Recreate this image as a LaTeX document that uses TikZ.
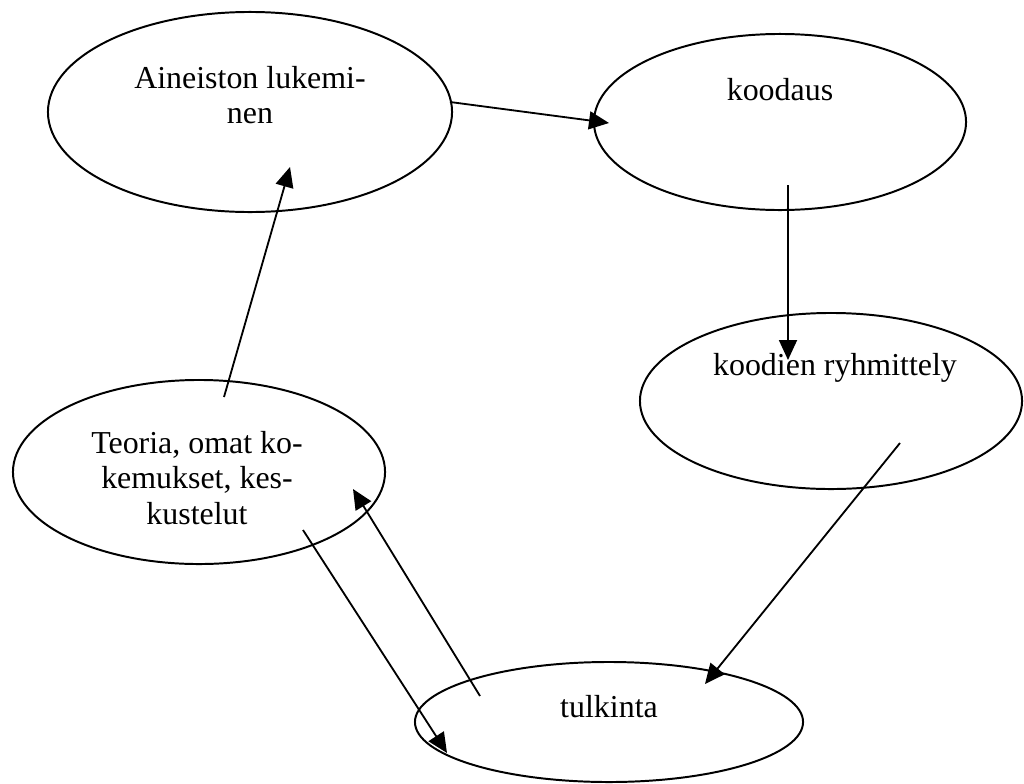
\documentclass[tikz,border=0pt]{standalone}
\usepackage{fontspec}
\setmainfont{Liberation Serif}
\usetikzlibrary{shapes.geometric,arrows.meta,calc}

\begin{document}
\begin{tikzpicture}[
  x=0.025cm, y=-0.025cm,
  stagebox/.style={ellipse, draw, line width=1.4pt, inner sep=0pt, outer sep=0pt},
  stagetext/.style={align=center, font=\fontsize{22.7}{25}\selectfont},
  arrow/.style={-{Triangle[length=0.5cm,width=0.45cm]}, line width=1.3pt}
]
  \useasboundingbox (0,0) rectangle (1024,783);

  % Stages (ellipses)
  \node[stagebox, minimum width=10.1cm, minimum height=5cm] (lukeminen) at (250,112) {};
  \node[stagebox, minimum width=9.3cm, minimum height=4.4cm] (koodaus) at (780,122) {};
  \node[stagebox, minimum width=9.55cm, minimum height=4.4cm] (ryhmittely) at (831,401) {};
  \node[stagebox, minimum width=9.3cm, minimum height=4.6cm] (teoria) at (199,472) {};
  \node[stagebox, minimum width=9.7cm, minimum height=3cm] (tulkinta) at (609,722) {};

  % Texts in the upper part of each stage
  \node[stagetext] (lukeminenTxt) at ($(lukeminen)+(0,-17)$) {Aineiston lukemi-\\nen};
  \node[stagetext] (koodausTxt) at ($(koodaus)+(0,-32)$) {koodaus};
  \node[stagetext] (ryhmittelyTxt) at ($(ryhmittely)+(4,-33)$) {koodien ryhmittely};
  \node[stagetext] (teoriaTxt) at ($(teoria)+(-2,6)$) {Teoria, omat ko-\\kemukset, kes-\\kustelut};
  \node[stagetext] (tulkintaTxt) at ($(tulkinta)+(0,-15)$) {tulkinta};

  % Arrows
  \draw[arrow] ($(lukeminen)+(200,-10)$) -- ($(koodaus)+(-171,1)$);
  \draw[arrow] ($(koodaus)+(8,63)$) -- ($(ryhmittely)+(-43,-41)$);
  \draw[arrow] ($(ryhmittely)+(69,42)$) -- ($(tulkinta)+(96,-38)$);
  \draw[arrow] ($(teoria)+(25,-75)$) -- ($(lukeminen)+(40,55)$);
  \draw[arrow] ($(teoria)+(104,58)$) -- ($(tulkinta)+(-162,31)$);
  \draw[arrow] ($(tulkinta)+(-129,-26)$) -- ($(teoria)+(154,17)$);
\end{tikzpicture}
\end{document}
